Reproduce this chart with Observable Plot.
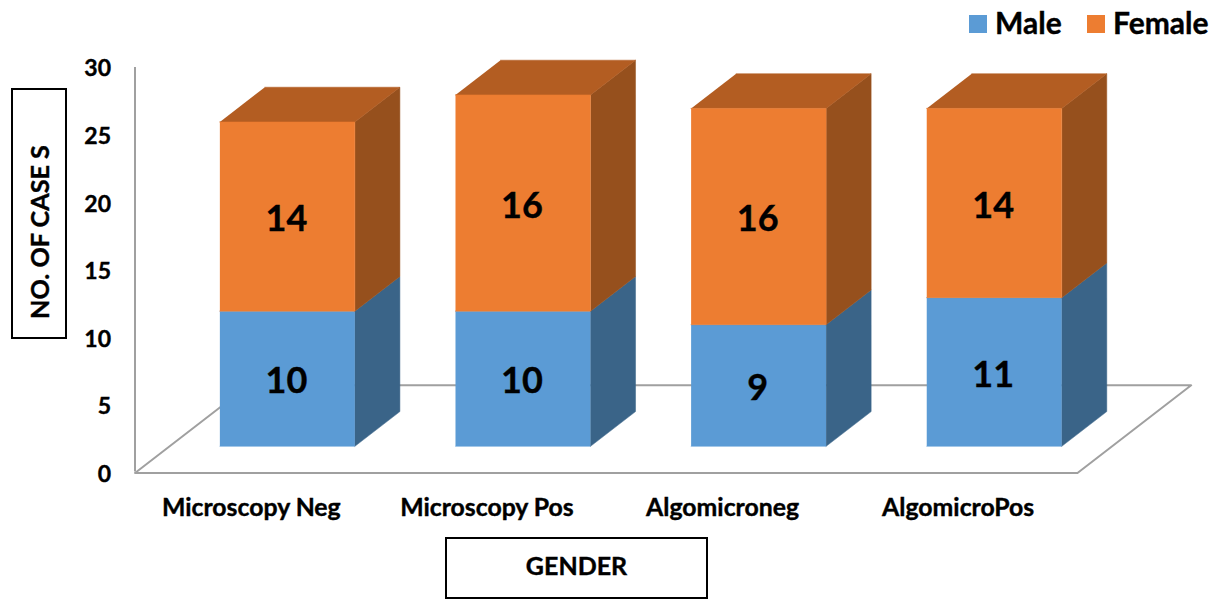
<!DOCTYPE html>
<html>
<head>
<meta charset="utf-8">
<script src="https://cdn.jsdelivr.net/npm/d3@7"></script>
<script src="https://cdn.jsdelivr.net/npm/@observablehq/plot@0.6"></script>
<style>
  html, body { margin: 0; padding: 0; background: #fff; overflow: hidden; }
  #page { position: relative; width: 1217px; height: 599px; font-family: Lato, sans-serif; font-weight: 700; color: #000; -webkit-text-stroke: 0.4px #000; }
  #chart svg { display: block; position: absolute; left: 0; top: 0; overflow: visible; }
  #chart text { stroke: #000; stroke-width: 0.4px; }
  .box { position: absolute; box-sizing: border-box; border: 2px solid #000; background: #fff; display: flex; align-items: center; justify-content: center; }
  #ytitle { left: 11px; top: 88px; width: 56px; height: 251px; }
  #ytitle span { display: block; transform: rotate(-90deg) translateX(-18px); white-space: nowrap; font-size: 25.2px; }
  #xtitle { left: 445px; top: 537px; width: 263px; height: 62px; font-size: 25px; padding-bottom: 6px; }
  .key { position: absolute; top: 15px; width: 18px; height: 18px; }
  .keytext { position: absolute; top: 4px; font-size: 30px; line-height: 36px; }
</style>
</head>
<body>
<div id="page">
  <div id="chart"></div>
  <div class="box" id="ytitle"><span>NO. OF CASE S</span></div>
  <div class="box" id="xtitle">GENDER</div>
  <div class="key" style="left:969px;background:#5B9BD5"></div>
  <div class="keytext" style="left:995px">Male</div>
  <div class="key" style="left:1087px;background:#ED7D31"></div>
  <div class="keytext" style="left:1113px">Female</div>
</div>
<script>
// Case counts by test group and gender
const categories = ["Microscopy Neg", "Microscopy Pos", "Algomicroneg", "AlgomicroPos"];
const male = [10, 10, 9, 11];
const female = [14, 16, 16, 14];
const yTicks = [0, 5, 10, 15, 20, 25, 30];

// Oblique projection: depth 0 is the front of the floor, depth 1 its back edge
const floorRunX = 0.4825;   // x units per full depth
const floorRunY = 6.49;     // y units per full depth
const barFront = 0.304;
const barBack = 0.70;
const barWidth = 0.573;

const project = (x, value, depth) => ({x: x + depth * floorRunX, y: value + depth * floorRunY});

const maleFill = "#5B9BD5", maleSide = "#3A6488";
const femaleFill = "#ED7D31", femaleSide = "#96501D", femaleTop = "#B35D22";
const gridStroke = "#A0A0A0";

// One closed polygon per face, in chart coordinates
function face(i, corners) {
  return corners.map(([x, v, d]) => ({bar: i, ...project(x, v, d)}));
}
const segments = categories.map((c, i) => {
  const x0 = i + 0.5 - barWidth / 2, x1 = i + 0.5 + barWidth / 2;
  return {i, x0, x1, c, male: male[i], total: male[i] + female[i]};
});
const frontMale = segments.flatMap(s => face(s.i, [[s.x0, 0, barFront], [s.x1, 0, barFront], [s.x1, s.male, barFront], [s.x0, s.male, barFront]]));
const sideMale = segments.flatMap(s => face(s.i, [[s.x1, 0, barFront], [s.x1, 0, barBack], [s.x1, s.male, barBack], [s.x1, s.male, barFront]]));
const frontFemale = segments.flatMap(s => face(s.i, [[s.x0, s.male, barFront], [s.x1, s.male, barFront], [s.x1, s.total, barFront], [s.x0, s.total, barFront]]));
const sideFemale = segments.flatMap(s => face(s.i, [[s.x1, s.male, barFront], [s.x1, s.male, barBack], [s.x1, s.total, barBack], [s.x1, s.total, barFront]]));
const topFemale = segments.flatMap(s => face(s.i, [[s.x0, s.total, barFront], [s.x1, s.total, barFront], [s.x1, s.total, barBack], [s.x0, s.total, barBack]]));

// Floor outline, left open along the wall
const floor = [[0, 0, 1], [0, 0, 0], [4, 0, 0], [4, 0, 1], [0, 0, 1]].map(([x, v, d]) => project(x, v, d));

const poly = (data, fill) => Plot.line(data, {x: "x", y: "y", z: "bar", fill, stroke: fill, strokeWidth: 0.5});

const labels = [
  ...segments.map(s => ({...project(s.i + 0.5, s.male / 2, barFront), text: String(male[s.i])})),
  ...segments.map(s => ({...project(s.i + 0.5, s.male + female[s.i] / 2, barFront), text: String(female[s.i])}))
];

const chart = Plot.plot({
  width: 1217,
  height: 599,
  marginLeft: 134.5,
  marginRight: 140,
  marginTop: 67,
  marginBottom: 126.5,
  style: {background: "transparent", fontFamily: "Lato, sans-serif"},
  x: {domain: [0, 4]},
  y: {domain: [0, 30]},
  marks: [
    Plot.line(floor, {x: "x", y: "y", stroke: gridStroke, strokeWidth: 2}),
    Plot.ruleX([0], {y1: 0, y2: 30, stroke: gridStroke, strokeWidth: 2, insetTop: -1}),
    poly(frontMale, maleFill),
    poly(sideMale, maleSide),
    poly(sideFemale, femaleSide),
    poly(topFemale, femaleTop),
    poly(frontFemale, femaleFill),
    Plot.text(labels, {x: "x", y: "y", text: "text", fill: "#000", fontSize: 36, fontWeight: 700, dy: 3, dx: -1}),
    Plot.axisY({ticks: yTicks, tickSize: 0, tickPadding: 24, label: null, fontSize: 23, fontWeight: 700, fill: "#000", dy: 1.5}),
    Plot.axisX({
      ticks: categories.map((c, i) => i + 0.5),
      tickFormat: v => categories[v - 0.5],
      tickSize: 0,
      tickPadding: 25,
      label: null,
      fontSize: 24.8,
      fontWeight: 700,
      fill: "#000",
      dx: -1.5
    })
  ]
});
document.getElementById("chart").append(chart);
</script>
</body>
</html>
